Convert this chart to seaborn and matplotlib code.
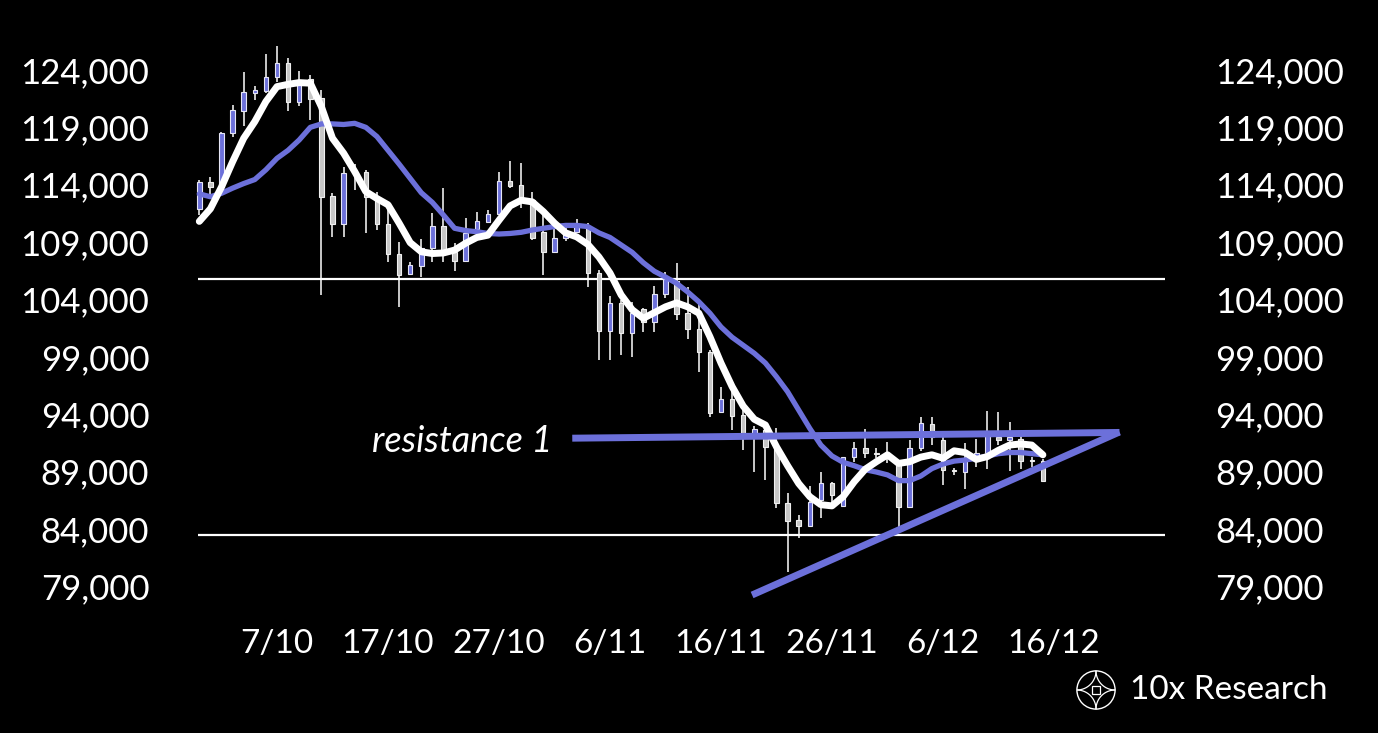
import numpy as np
import pandas as pd
import matplotlib
matplotlib.use("Agg")
import matplotlib.pyplot as plt
import seaborn as sns
from matplotlib.patches import Circle, Rectangle

# ---------------- data ----------------
dates = pd.date_range("2025-09-30", periods=77, freq="D")

opens = [111856, 114210, 113826, 118481, 120452, 122021, 122195, 123364, 124584, 121236,
         123189, 121533, 113015, 110548, 114994, 115081, 112954, 110548, 107933, 106215,
         106939, 108456, 110400, 108160, 107375, 110112, 110775, 111446, 114323, 113974,
         112667, 109851, 108107, 109327, 109851, 110400, 106276, 101272, 103661, 101045,
         103138, 102005, 104446, 105605, 102841, 101394, 99389, 94158, 95292, 93923,
         92179, 92615, 91159, 86226, 84770, 84271, 86513, 87969, 85990, 90235,
         91019, 90600, 90500, 89853, 85928, 91019, 93137, 91744, 89150, 88980,
         90148, 90584, 92000, 91750, 91831, 89990, 89940]
highs = [114410, 114646, 118600, 120949, 123800, 122631, 125369, 126092, 125020, 123939,
         123564, 122256, 113251, 115570, 115779, 115282, 113390, 112379, 108979, 107288,
         109240, 111507, 113739, 108892, 111071, 111594, 111795, 115081, 116067, 115866,
         113390, 111359, 110112, 110200, 111010, 110635, 106600, 104297, 103949, 103800,
         103225, 105169, 106363, 107148, 105108, 103661, 99590, 96390, 96102, 94507,
         93000, 92764, 92764, 87098, 85205, 87760, 88928, 88107, 90300, 91595,
         92676, 91019, 91595, 89853, 91744, 93723, 93723, 92415, 89300, 91456,
         91802, 94298, 94158, 93288, 92328, 90287, 90061]
lows = [111359, 112954, 113500, 118185, 119144, 121385, 121969, 122980, 120452, 120888,
        119641, 104384, 109467, 109467, 113538, 109764, 110051, 107288, 103365, 106128,
        105928, 107288, 107288, 106503, 107288, 109467, 110635, 111359, 113687, 111943,
        109179, 106128, 108020, 109118, 109764, 105108, 98718, 98718, 99113, 98953,
        101185, 101185, 104097, 102205, 100549, 97698, 93775, 94071, 92615, 90872,
        88980, 88256, 85789, 80263, 83173, 84184, 84918, 85789, 85900, 89800,
        90148, 90148, 89712, 84184, 85870, 90811, 91300, 87820, 88700, 87446,
        89362, 89215, 91308, 89041, 89215, 89415, 88107]
closes = [114210, 113826, 118481, 120513, 122056, 122256, 123364, 124584, 121236, 123128,
          121472, 112954, 110548, 114994, 115200, 112954, 110548, 107933, 106128, 107000,
          108456, 110400, 108160, 107375, 109764, 110836, 111446, 114323, 113913, 112500,
          109327, 108107, 109327, 109764, 110400, 106276, 101272, 103661, 101045, 102841,
          102057, 104446, 105753, 102702, 101394, 99389, 94071, 95292, 93862, 92241,
          92676, 91159, 86278, 84709, 84271, 86313, 87969, 86948, 90235, 91019,
          90584, 90500, 90200, 85928, 91019, 93200, 92000, 89128, 89050, 90148,
          90600, 92467, 91750, 92000, 89940, 89920, 88195]

ma_fast = [110800, 111900, 113800, 116000, 118050, 119500, 121250, 122550, 122750, 122900,
           122850, 120800, 118050, 116750, 115150, 113400, 112800, 112250, 110650, 108950,
           108150, 108000, 108050, 108300, 108900, 109400, 109600, 110900, 112150, 112650,
           112500, 111650, 110650, 109800, 109450, 108800, 107700, 106300, 104400, 103100,
           102350, 102850, 103350, 103700, 103350, 102800, 100750, 98450, 96400, 94700,
           93550, 93050, 91150, 89500, 87950, 86800, 86100, 86000, 86800, 88100,
           89200, 89850, 90450, 89700, 89850, 90250, 90450, 90150, 90800, 90650,
           90050, 90300, 90850, 91300, 91400, 91300, 90450]
ma_slow = [113200, 112950, 113250, 113700, 114100, 114450, 115300, 116300, 117000, 117900,
           119000, 119300, 119300, 119250, 119350, 119000, 118200, 117000, 115800, 114550,
           113300, 112450, 111350, 110200, 110000, 109900, 109750, 109700, 109750, 109850,
           110050, 110200, 110350, 110450, 110450, 110350, 109800, 109400, 108750, 108100,
           107200, 106450, 105950, 105400, 104650, 103800, 102800, 101600, 100700, 100000,
           99300, 98450, 97250, 95950, 94350, 92750, 91300, 90350, 89800, 89500,
           89150, 88950, 88700, 88200, 88200, 88600, 89250, 89650, 89900, 90000,
           90150, 90350, 90550, 90650, 90650, 90550, 90450]

y_ticks = [79000, 84000, 89000, 94000, 99000, 104000, 109000, 114000, 119000, 124000]
x_tick_dates = ["2025-10-07", "2025-10-17", "2025-10-27", "2025-11-06",
                "2025-11-16", "2025-11-26", "2025-12-06", "2025-12-16"]
x_tick_labels = ["7/10", "17/10", "27/10", "6/11", "16/11", "26/11", "6/12", "16/12"]

support_levels = [105800, 83500]
resistance_vals = [91900, 92400]
trend_vals = [78230, 92440]

# ---------------- style ----------------
BG = "#000000"
BLUE = "#6c70da"
GREY = "#c6c6c6"
sns.set_theme(style="dark", rc={"axes.facecolor": BG, "figure.facecolor": BG})
plt.rcParams["font.family"] = ["Lato", "DejaVu Sans"]

fig = plt.figure(figsize=(13.78, 7.33), dpi=100)
ax = fig.add_axes([0.13657, 0.16904, 0.71691, 0.78241])
ax.set_facecolor(BG)

day = np.asarray((dates - dates[0]).days, dtype=float)
o = np.array(opens, float); c = np.array(closes, float)
h = np.array(highs, float); l = np.array(lows, float)
up = c >= o

# wicks
ax.vlines(day, l, h, color="white", lw=1.1, zorder=2)
# bodies
bottoms = np.minimum(o, c)
heights = np.abs(c - o)
ax.bar(day[up], heights[up], bottom=bottoms[up], width=0.4, color=BLUE,
       edgecolor="#e6e6f5", linewidth=0.8, zorder=3)
ax.bar(day[~up], heights[~up], bottom=bottoms[~up], width=0.4, color=GREY,
       edgecolor="#f0f0f0", linewidth=0.8, zorder=3)

# moving averages
ma_df = pd.DataFrame({"day": day, "fast": ma_fast, "slow": ma_slow})
sns.lineplot(data=ma_df, x="day", y="slow", ax=ax, color=BLUE, lw=3.8,
             zorder=4, solid_capstyle="round", solid_joinstyle="round")
sns.lineplot(data=ma_df, x="day", y="fast", ax=ax, color="white", lw=5.0,
             zorder=5, solid_capstyle="round", solid_joinstyle="round")

# horizontal support/resistance levels
for lvl in support_levels:
    ax.hlines(lvl, -0.1, 87.0, color="white", lw=1.6, zorder=1)

# triangle lines
ax.plot([33.6, 82.9], resistance_vals, color=BLUE, lw=5.0, zorder=6,
        solid_capstyle="butt")
ax.plot([49.8, 82.9], trend_vals, color=BLUE, lw=5.0, zorder=6,
        solid_capstyle="butt")
ax.text(31.8, 91650, "resistance 1", color="white", fontsize=26, style="italic",
        ha="right", va="center", zorder=7)

# axes
ax.set_xlim(-1, 88)
ax.set_ylim(77000, 127000)
ax.set_yticks(y_ticks)
ax.set_yticklabels([f"{v:,}" for v in y_ticks])
tick_pos = [(pd.Timestamp(d) - dates[0]).days for d in x_tick_dates]
ax.set_xticks(tick_pos)
ax.set_xticklabels(x_tick_labels)
ax.tick_params(axis="y", labelleft=True, labelright=True, left=False, right=False,
               length=0, pad=28, labelsize=25, labelcolor="white")
ax.tick_params(axis="x", bottom=False, length=0, pad=14, labelsize=24,
               labelcolor="white")
ax.set_xlabel(""); ax.set_ylabel("")
ax.grid(False)
for s in ax.spines.values():
    s.set_visible(False)

# logo
lax = fig.add_axes([1075 / 1378, (733 - 711) / 733, 42 / 1378, 42 / 733])
lax.set_xlim(-1.1, 1.1); lax.set_ylim(-1.1, 1.1); lax.set_aspect("equal")
lax.axis("off")
lax.add_patch(Circle((0, 0), 1.0, fill=False, ec="white", lw=1.0))
for cx, cy in [(1.0, 1.0), (-1.0, 1.0), (1.0, -1.0), (-1.0, -1.0)]:
    t = np.linspace(0, 2 * np.pi, 200)
    xs = cx + 1.0 * np.cos(t); ys = cy + 1.0 * np.sin(t)
    m = xs ** 2 + ys ** 2 <= 1.0
    xs = np.where(m, xs, np.nan); ys = np.where(m, ys, np.nan)
    lax.plot(xs, ys, color="white", lw=0.9)
lax.add_patch(Rectangle((-0.2, -0.2), 0.4, 0.4, fill=False, ec="white", lw=0.9))
fig.text(1130 / 1378, (733 - 690) / 733, "10x Research", color="white",
         fontsize=24, ha="left", va="center")

fig.savefig("out.png", dpi=100, facecolor=BG)
